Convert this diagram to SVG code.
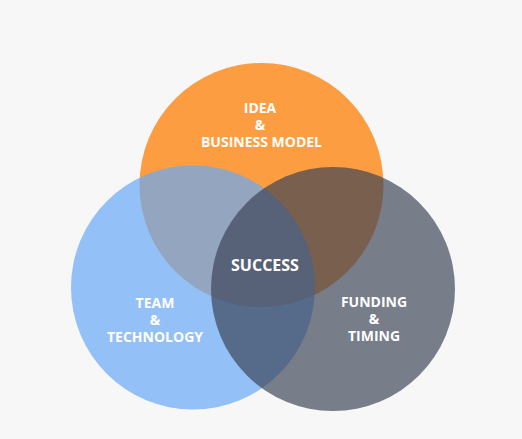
<svg xmlns="http://www.w3.org/2000/svg" width="522" height="439" viewBox="0 0 522 439">
  <style>
    .lbl { font-family: "Open Sans", "Noto Sans", "Liberation Sans", sans-serif; font-weight: 700; fill: #ffffff; text-anchor: middle; }
    .sm { font-size: 14px; }
    .lg { font-size: 16px; }
  </style>
  <rect width="522" height="439" fill="#f7f7f7"/>

  <!-- Venn circles: orange base, translucent blue and slate layered above -->
  <g id="idea">
    <circle cx="261.5" cy="185" r="122" fill="#fc9d42"/>
  </g>
  <g id="team">
    <circle cx="193" cy="287.5" r="122" fill="#68a8f7" fill-opacity="0.7"/>
  </g>
  <g id="funding">
    <circle cx="333" cy="289" r="122" fill="#394053" fill-opacity="0.67"/>
  </g>

  <!-- Labels: three stacked lines each, 17px apart -->
  <g id="idea-label">
    <text class="lbl sm"><tspan x="260" y="113">IDEA</tspan><tspan x="260" y="130">&amp;</tspan><tspan x="261.5" y="147">BUSINESS MODEL</tspan></text>
  </g>
  <g id="team-label">
    <text class="lbl sm"><tspan x="155" y="308">TEAM</tspan><tspan x="155" y="325">&amp;</tspan><tspan x="155" y="342">TECHNOLOGY</tspan></text>
  </g>
  <g id="funding-label">
    <text class="lbl sm"><tspan x="374" y="307">FUNDING</tspan><tspan x="374" y="324">&amp;</tspan><tspan x="374" y="341">TIMING</tspan></text>
  </g>
  <g id="success">
    <text class="lbl lg" x="265" y="271">SUCCESS</text>
  </g>
</svg>
